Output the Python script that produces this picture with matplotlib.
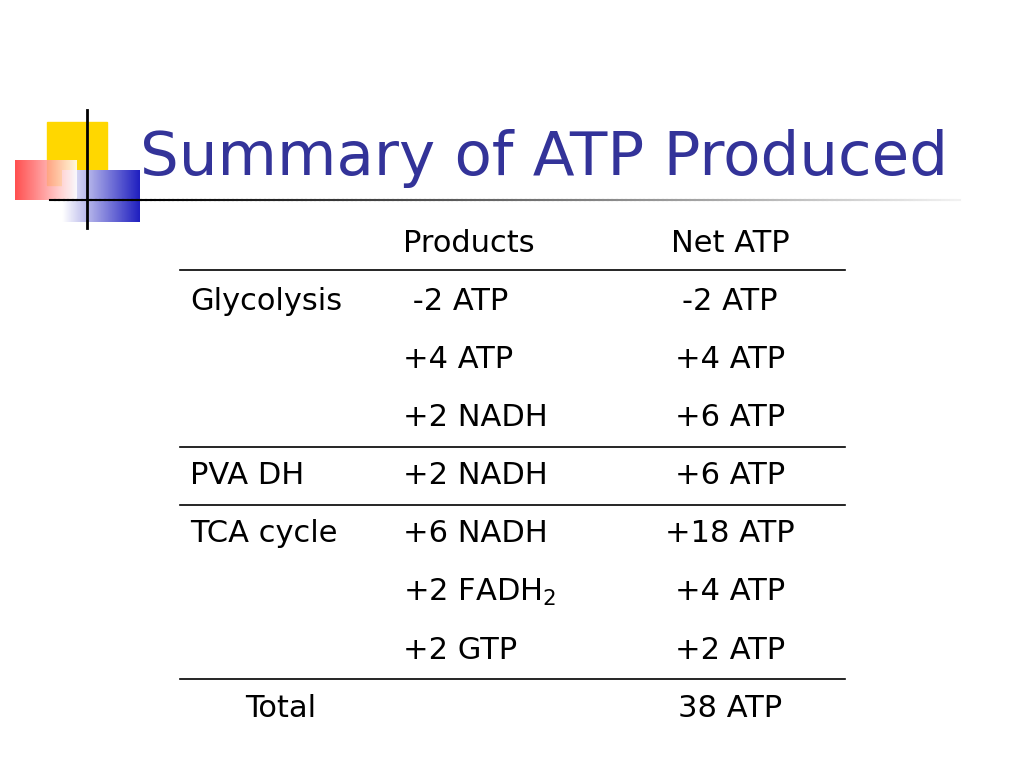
import matplotlib
matplotlib.use("Agg")
import matplotlib.pyplot as plt
import numpy as np
from matplotlib.patches import Rectangle

title = "Summary of ATP Produced"
headers = ["Products", "Net ATP"]
stages = ["Glycolysis", "", "", "PVA DH", "TCA cycle", "", "", "Total"]
products = [" -2 ATP", "+4 ATP", "+2 NADH", "+2 NADH", "+6 NADH", r"+2 FADH$_2$", "+2 GTP", ""]
net_atp = ["-2 ATP", "+4 ATP", "+6 ATP", "+6 ATP", "+18 ATP", "+4 ATP", "+2 ATP", "38 ATP"]
rule_after = [2, 3, 6]  # separators after these row indices

fig = plt.figure(figsize=(10.24, 7.68), dpi=100)
ax = fig.add_axes([0, 0, 1, 1])
ax.set_xlim(0, 1024); ax.set_ylim(768, 0); ax.axis("off")

# decoration
ax.add_patch(Rectangle((47, 122), 60, 63, color="#FFD700", zorder=1))
grad = np.linspace(1, 0, 100).reshape(1, -1)
from matplotlib.colors import LinearSegmentedColormap
red = LinearSegmentedColormap.from_list("r", ["#FF3030", "#FFFFFF"])
blue = LinearSegmentedColormap.from_list("b", ["#2020C0", "#FFFFFF"])
ax.imshow(grad, extent=(62, 140, 222, 170), cmap=blue, aspect="auto", zorder=2, vmin=0, vmax=1)
ax.imshow(grad[:, ::-1], extent=(15, 77, 200, 160), cmap=red, aspect="auto", zorder=3, vmin=0, vmax=1, alpha=0.85)
ax.plot([87, 87], [110, 228], color="black", lw=2, zorder=4)
xs = np.linspace(50, 960, 200)
for i in range(len(xs) - 1):
    g = min(1, max(0, (xs[i] - 150) / 810))
    ax.plot(xs[i:i+2], [200, 200], color=(g * 0.95, g * 0.95, g * 0.95), lw=1.5, zorder=4)
ax.set_xlim(0, 1024); ax.set_ylim(768, 0)

ax.text(140, 158, title, fontsize=44, color="#333399", va="center", ha="left")

fs = 22
ax.text(403, 243, headers[0], fontsize=fs, va="center", ha="left")
ax.text(730, 243, headers[1], fontsize=fs, va="center", ha="center")
ax.plot([180, 845], [270, 270], color="black", lw=1.2)
y0, dy = 301, 58.2
for i in range(len(net_atp)):
    y = y0 + i * dy
    x = 245 if stages[i] == "Total" else 190
    ax.text(x, y, stages[i], fontsize=fs, va="center", ha="left")
    ax.text(403, y, products[i], fontsize=fs, va="center", ha="left")
    ax.text(730, y, net_atp[i], fontsize=fs, va="center", ha="center")
    if i in rule_after:
        yl = y + dy / 2
        ax.plot([180, 845], [yl, yl], color="black", lw=1.2)

fig.savefig("out.png", dpi=100)
